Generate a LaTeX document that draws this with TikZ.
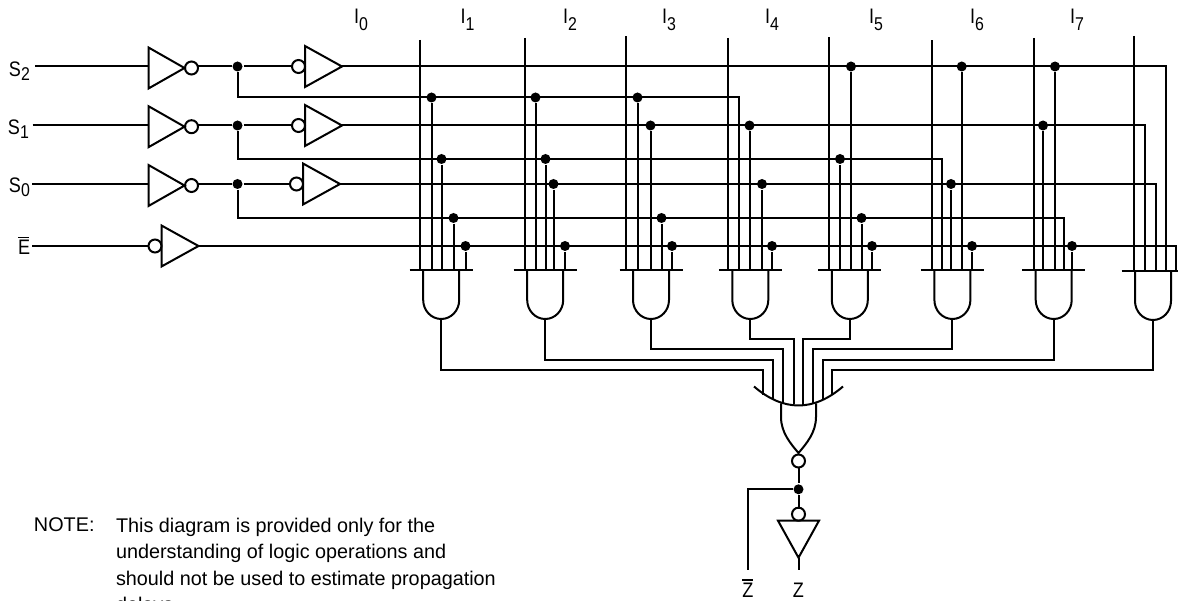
\documentclass[tikz,border=0pt]{standalone}
\usepackage{fontspec}
\setmainfont{Liberation Sans}
\newfontfamily\narrowfont[FakeStretch=0.86]{Liberation Sans}

\newcommand{\siglabel}[3]{#1\raisebox{#3}{\fontsize{18.5}{18.5}\selectfont #2}}
\newcommand{\barlabel}[1]{\leavevmode\rlap{\rule[16.5pt]{11pt}{1.2pt}}#1}

\tikzset{
    dot/.style = {circle, fill=black, inner sep=0pt, minimum size=10pt},
    siglab/.style = {inner sep=0pt, font=\narrowfont\fontsize{21}{21}\selectfont},
    notetext/.style = {inner sep=0pt, anchor=north west, align=left, font=\fontsize{19.8}{26.5}\selectfont},
    notgate/.pic = {
        \draw (0,-20.5) -- (36,0) -- (0,20.5) -- cycle;
        \draw (43,0) circle (6.5);
        \coordinate (-in) at (0,0);
        \coordinate (-out) at (49.5,0);
    },
    bufgate/.pic = {
        \draw (0,-20.5) -- (37,0) -- (0,20.5) -- cycle;
        \draw (-6.5,0) circle (6.5);
        \coordinate (-in) at (-13,0);
        \coordinate (-out) at (37,0);
    },
    andgate/.pic = {
        \draw (-31.5,0) -- (31.5,0);
        \draw (-18,0) -- (-18,-30) arc[start angle=180, end angle=360, x radius=18, y radius=19] -- (18,0);
        \coordinate (-bar) at (0,0);
        \coordinate (-out) at (0,-49);
    },
    orgate/.pic = {
        \draw (-44.5,19) .. controls (-15,-6.3) and (15,-6.3) .. (44.5,19);
        \draw (-17.5,2) -- (-17.5,-11.5) .. controls (-17.5,-27) and (-8,-38) .. (0,-47.5)
              .. controls (8,-38) and (17.5,-27) .. (17.5,-11.5) -- (17.5,2);
        \draw (0,-55.5) circle (6.5);
        \coordinate (-out) at (0,-62);
    },
}

\begin{document}
\begin{tikzpicture}[x=1pt, y=1pt, line width=2pt]

\useasboundingbox (0,0) rectangle (1178,-601);

\foreach \s/\xin/\xlab/\ylab/\ya/\yb/\xb/\yn in {2/35/8/77/66.5/68/305/97.5, 1/32.5/7/135/125.5/126.7/305/159, 0/32/8/193/184/185.5/303/218} {
    \node[siglab, anchor=base west] (labS\s) at (\xlab,-\ylab) {\siglabel{S}{\s}{-4pt}};
    \coordinate (in\s) at (\xin,-\ya);
    \coordinate (s\s) at (0,-\ya);
    \coordinate (n\s) at (0,-\yn);
    \pic (inv\s) at (148.5,-\yb) {notgate};
    \pic (buf\s) at (\xb,-\ya) {bufgate};
    \node[dot] (sj\s) at (237.5,-\ya) {};
    \draw (in\s) -- (in\s -| inv\s-in);
    \draw (sj\s -| inv\s-out) -- (sj\s);
    \draw (sj\s) -- (buf\s-in);
}

\node[siglab, anchor=base west] (labE) at (17,-255) {\barlabel{E}};
\coordinate (inE) at (32,-246);
\coordinate (en) at (0,-246);
\pic (bufE) at (161.5,-246) {bufgate};
\draw (inE) -- (bufE-in);

\foreach \g/\x/\y in {1/441.2/270, 2/545.2/270, 3/651/270, 4/750.3/270, 5/849.8/270, 6/952.4/270, 7/1053.7/270, 8/1153/271} {
    \pic (and\g) at (\x,-\y) {andgate};
}

\foreach \g/\i/\x/\ytop/\xlab in {1/0/420/40/353, 2/1/524.5/38/459.5, 3/2/626/36.5/562, 4/3/728/38/661, 5/4/829/37.5/764, 6/5/932/40.5/868, 7/6/1034/38/969, 8/7/1134/36/1069} {
    \coordinate (top\g) at (\x,-\ytop);
    \draw (top\g) -- (top\g |- and\g-bar);
    \node[siglab, anchor=base west] (labI\i) at (\xlab,-24) {\siglabel{I}{\i}{-7pt}};
}

\foreach \g/\p/\x/\row/\src in {4/a/738.5/n2/sj2, 6/a/942/n1/sj1, 7/c/1064/n0/sj0, 8/a/1144.7/s1/buf1-out, 8/b/1156/s0/buf0-out, 8/c/1166/s2/buf2-out, 8/d/1175.7/en/bufE-out} {
    \coordinate (bend\g\p) at (\x,0 |- \row);
    \draw (\src) |- (bend\g\p) -- (bend\g\p |- and\g-bar);
}

\foreach \g/\p/\x/\row in {1/a/431.5/n2, 1/b/441.5/n1, 1/c/453.5/n0, 1/d/465.5/en,
        2/a/535.5/n2, 2/b/545.5/n1, 2/c/553.5/s0, 2/d/565/en,
        3/a/637.5/n2, 3/b/650.5/s1, 3/c/661.5/n0, 3/d/672/en,
        4/b/749.5/s1, 4/c/762/s0, 4/d/772/en,
        5/a/840/n1, 5/b/851/s2, 5/c/861.5/n0, 5/d/872/en,
        6/b/951/s0, 6/c/961.7/s2, 6/d/972/en,
        7/a/1043/s1, 7/b/1055/s2, 7/d/1072/en} {
    \node[dot] (j\g\p) at (\x,0 |- \row) {};
    \draw (j\g\p) -- (j\g\p |- and\g-bar);
}

\pic (nor) at (798.5,-405.5) {orgate};

\foreach \g/\x/\y/\yend in {4/794/339/404, 5/803/339/405, 3/783/349/403, 6/813/349/403, 2/773/360/399, 7/822.7/360/399, 1/763/370/395, 8/832/370/395} {
    \coordinate (orin\g) at (\x,-\yend);
    \coordinate (orbus\g) at (\x,-\y);
    \draw (and\g-out) |- (orbus\g) -- (orin\g);
}

\node[dot] (zj) at (798.5,-489.3) {};
\pic[rotate=-90] (zinv) at (798.5,-520.7) {bufgate};
\coordinate (zbarend) at (748,-570);
\coordinate (zend) at (798.5,-570);
\draw (nor-out) -- (zj);
\draw (zj) -- (zinv-in);
\draw (zj) -| (zbarend);
\draw (zinv-out) -- (zend);

\node[siglab, anchor=base] (labZbar) at (748,-597) {\barlabel{Z}};
\node[siglab, anchor=base] (labZ) at (798.5,-597) {Z};

\node[notetext] (labNote) at (33,-517) {NOTE:};
\node[notetext] (noteBody) at (115,-517) {This diagram is provided only for the\\understanding of logic operations and\\should not be used to estimate propagation\\delays.};

\end{tikzpicture}
\end{document}
